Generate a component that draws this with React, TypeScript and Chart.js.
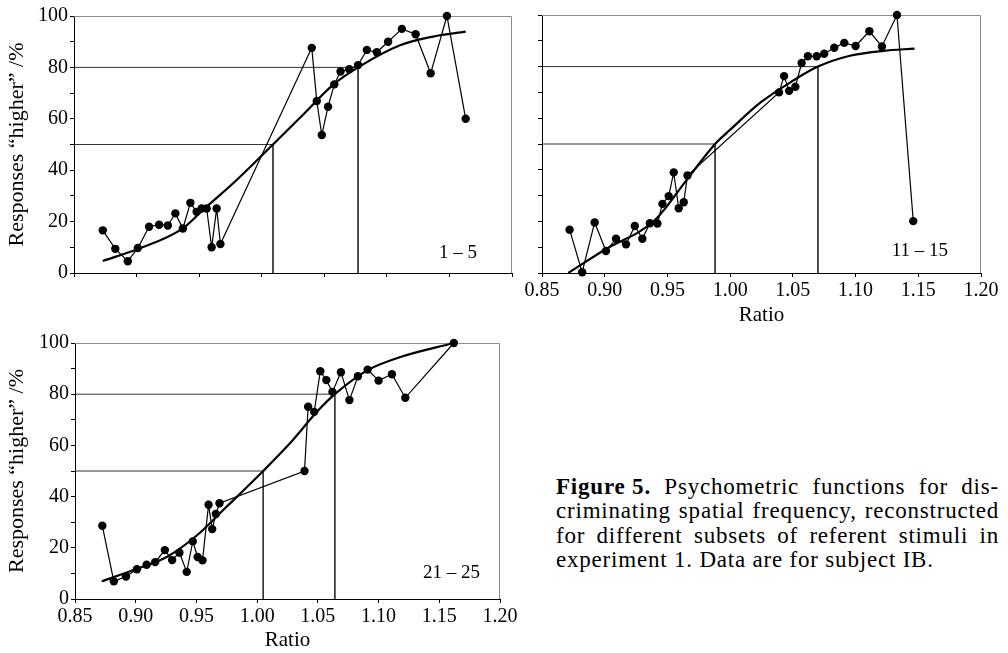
import React, { useEffect, useRef } from "react";
import { Chart, registerables } from "chart.js";

Chart.register(...registerables);

// ---------- shared axis data ----------
const xTicks = [0.85, 0.9, 0.95, 1.0, 1.05, 1.1, 1.15, 1.2];
const yTickMarks = [0, 10, 20, 30, 40, 50, 60, 70, 80, 90, 100];
const yTickLabels = [0, 20, 40, 60, 80, 100];
const thresholdLevels = [50, 80];

// ---------- panel "1 – 5" ----------
const p1X = [0.873, 0.883, 0.893, 0.901, 0.91, 0.918, 0.925, 0.931, 0.937, 0.943, 0.948, 0.952, 0.956, 0.96, 0.964, 0.967, 1.04, 1.044, 1.048, 1.053, 1.058, 1.063, 1.07, 1.077, 1.084, 1.092, 1.101, 1.112, 1.123, 1.135, 1.148, 1.163];
const p1Y = [16.6, 9.4, 4.6, 9.7, 18.0, 18.8, 18.5, 23.2, 17.3, 27.3, 23.8, 25.1, 25.1, 10.0, 25.1, 11.3, 87.6, 66.9, 53.7, 64.7, 73.4, 78.4, 79.3, 80.9, 86.8, 85.9, 90.0, 95.0, 92.9, 77.7, 100, 60.0];
const p1FitX = [0.873, 0.901, 0.937, 0.953, 0.98, 1.009, 1.031, 1.057, 1.077, 1.111, 1.137, 1.163];
const p1FitY = [4.7, 9.3, 17.4, 24.5, 36.2, 50.0, 60.6, 73.2, 80.0, 88.7, 92.0, 93.9];
const p1Thresh = [1.009, 1.077];

// ---------- panel "11 – 15" ----------
const p2X = [0.872, 0.882, 0.892, 0.901, 0.909, 0.917, 0.924, 0.93, 0.936, 0.942, 0.946, 0.951, 0.955, 0.959, 0.963, 0.966, 1.039, 1.043, 1.047, 1.052, 1.057, 1.062, 1.069, 1.075, 1.083, 1.091, 1.1, 1.111, 1.121, 1.133, 1.146];
const p2Y = [16.8, 0.3, 19.6, 8.5, 13.3, 11.1, 18.2, 13.3, 19.3, 19.2, 26.8, 29.8, 39.0, 25.1, 27.4, 37.8, 70.0, 76.3, 70.6, 72.2, 81.4, 84.0, 84.0, 85.0, 87.3, 89.2, 88.0, 93.7, 87.8, 100, 20.1];
const p2FitX = [0.871, 0.9, 0.94, 0.966, 0.988, 1.0, 1.024, 1.05, 1.07, 1.0955, 1.122, 1.147];
const p2FitY = [0, 9.0, 20.5, 36.5, 50.0, 55.5, 66.0, 74.5, 80.0, 84.2, 86.1, 87.0];
const p2Thresh = [0.988, 1.07];

// ---------- panel "21 – 25" ----------
const p3X = [0.8725, 0.882, 0.892, 0.901, 0.909, 0.916, 0.924, 0.93, 0.936, 0.942, 0.947, 0.951, 0.955, 0.96, 0.963, 0.966, 0.969, 1.039, 1.042, 1.047, 1.052, 1.057, 1.062, 1.069, 1.076, 1.083, 1.091, 1.1, 1.111, 1.122, 1.162];
const p3Y = [28.6, 6.9, 8.8, 11.6, 13.4, 14.4, 19.1, 15.2, 18.1, 10.6, 22.5, 16.4, 15.1, 36.8, 27.3, 33.2, 37.4, 50.0, 75.1, 73.1, 89.0, 85.5, 80.9, 88.6, 77.7, 87.0, 89.6, 85.3, 87.8, 78.6, 100];
const p3FitX = [0.872, 0.9, 0.9255, 0.95, 0.975, 1.005, 1.027, 1.05, 1.064, 1.091, 1.118, 1.162];
const p3FitY = [6.9, 11.6, 16.4, 24.7, 36.1, 50.0, 60.8, 73.5, 80.0, 89.4, 94.5, 100];
const p3Thresh = [1.005, 1.064];

const FONT = "'Liberation Serif', 'DejaVu Serif', serif";

const framePlugin = {
  id: "frame",
  beforeDatasetsDraw(chart: any) {
    const { ctx, chartArea } = chart;
    const { left, right, top, bottom } = chartArea;
    ctx.save();
    ctx.strokeStyle = "#8c8c8c";
    ctx.lineWidth = 1;
    ctx.beginPath();
    ctx.moveTo(left, top + 0.5);
    ctx.lineTo(right - 0.5, top + 0.5);
    ctx.lineTo(right - 0.5, bottom);
    ctx.stroke();
    ctx.restore();
  },
};

type PanelProps = {
  xs: number[];
  ys: number[];
  fx: number[];
  fy: number[];
  th: number[];
  left: number;
  top: number;
  width: number;
  height: number;
  pad: { top: number; right: number; left: number; bottom: number };
  yWidth: number;
  xHeight: number;
  titlePadBottom: number;
  showYLabels: boolean;
  showXLabels: boolean;
};

function Panel(p: PanelProps) {
  const ref = useRef<HTMLCanvasElement | null>(null);
  useEffect(() => {
    if (!ref.current) return;
    const data = p.xs.map((x, i) => ({ x, y: p.ys[i] }));
    const fit = p.fx.map((x, i) => ({ x, y: p.fy[i] }));
    const refs = thresholdLevels.map((lv, i) => ({
      data: [
        { x: xTicks[0], y: lv },
        { x: p.th[i], y: lv },
        { x: p.th[i], y: 0 },
      ],
      showLine: true,
      borderColor: "#333",
      borderWidth: 1,
      pointRadius: 0,
      tension: 0,
      clip: false as any,
    }));
    const chart = new Chart(ref.current, {
      type: "scatter",
      data: {
        datasets: [
          {
            data,
            showLine: true,
            borderColor: "#000",
            borderWidth: 1.2,
            pointRadius: 4.2,
            pointBackgroundColor: "#000",
            pointBorderColor: "#000",
            pointBorderWidth: 0,
            tension: 0,
            clip: false as any,
          },
          {
            data: fit,
            showLine: true,
            borderColor: "#000",
            borderWidth: 2.2,
            pointRadius: 0,
            cubicInterpolationMode: "monotone",
            clip: false as any,
          },
          ...refs,
        ] as any,
      },
      options: {
        animation: false,
        responsive: false,
        maintainAspectRatio: false,
        layout: { padding: p.pad },
        plugins: {
          legend: { display: false },
          tooltip: { enabled: false },
        },
        scales: {
          x: {
            type: "linear",
            min: xTicks[0],
            max: xTicks[xTicks.length - 1],
            afterBuildTicks: (s: any) => {
              s.ticks = xTicks.map((v) => ({ value: v }));
            },
            afterFit: (s: any) => {
              s.height = p.xHeight;
            },
            ticks: {
              autoSkip: false,
              maxRotation: 0,
              padding: 2,
              color: "#000",
              font: { family: FONT, size: 20 },
              callback: (v: any) => (p.showXLabels ? Number(v).toFixed(2) : ""),
            },
            grid: {
              drawOnChartArea: false,
              drawTicks: true,
              tickLength: 4,
              color: "#000",
            },
            border: { display: true, color: "#000", width: 1 },
            title: {
              display: p.showXLabels,
              text: "Ratio",
              color: "#000",
              font: { family: FONT, size: 21 },
              padding: { top: 0, bottom: p.titlePadBottom },
            },
          },
          y: {
            type: "linear",
            min: 0,
            max: 100,
            afterBuildTicks: (s: any) => {
              s.ticks = yTickMarks.map((v) => ({ value: v }));
            },
            afterFit: (s: any) => {
              s.width = p.yWidth;
            },
            ticks: {
              autoSkip: false,
              padding: 2,
              color: "#000",
              font: { family: FONT, size: 20 },
              callback: (v: any) =>
                p.showYLabels && yTickLabels.includes(Number(v)) ? String(v) : "",
            },
            grid: {
              drawOnChartArea: false,
              drawTicks: true,
              tickLength: 4,
              color: "#000",
            },
            border: { display: true, color: "#000", width: 1 },
            title: {
              display: p.showYLabels,
              text: "Responses \u201chigher\u201d /%",
              color: "#000",
              font: { family: FONT, size: 22 },
              padding: { top: 4, bottom: 0 },
            },
          },
        },
      },
      plugins: [framePlugin],
    });
    return () => chart.destroy();
  }, []);
  return (
    <canvas
      ref={ref}
      width={p.width}
      height={p.height}
      style={{
        position: "absolute",
        left: p.left,
        top: p.top,
        width: p.width,
        height: p.height,
      }}
    />
  );
}

const labelStyle: React.CSSProperties = {
  position: "absolute",
  fontFamily: FONT,
  fontSize: 19,
  lineHeight: "19px",
  color: "#000",
  textAlign: "right",
  whiteSpace: "nowrap",
  width: 120,
};

const captionLine: React.CSSProperties = {
  textAlign: "justify",
  textAlignLast: "justify" as any,
  whiteSpace: "nowrap",
};

export default function App() {
  return (
    <div
      style={{
        position: "absolute",
        left: 0,
        top: 0,
        width: 1008,
        height: 653,
        background: "#fff",
        overflow: "hidden",
      }}
    >
      <Panel
        xs={p1X}
        ys={p1Y}
        fx={p1FitX}
        fy={p1FitY}
        th={p1Thresh}
        left={0}
        top={0}
        width={520}
        height={300}
        pad={{ top: 16, right: 8, left: 0, bottom: 0 }}
        yWidth={74}
        xHeight={27}
        titlePadBottom={0}
        showYLabels={true}
        showXLabels={false}
      />
      <Panel
        xs={p2X}
        ys={p2Y}
        fx={p2FitX}
        fy={p2FitY}
        th={p2Thresh}
        left={520}
        top={0}
        width={488}
        height={335}
        pad={{ top: 15, right: 27, left: 0, bottom: 0 }}
        yWidth={22}
        xHeight={62}
        titlePadBottom={7}
        showYLabels={false}
        showXLabels={true}
      />
      <Panel
        xs={p3X}
        ys={p3Y}
        fx={p3FitX}
        fy={p3FitY}
        th={p3Thresh}
        left={0}
        top={320}
        width={545}
        height={333}
        pad={{ top: 23, right: 45, left: 0, bottom: 0 }}
        yWidth={75}
        xHeight={54}
        titlePadBottom={0}
        showYLabels={true}
        showXLabels={true}
      />
      <div style={{ ...labelStyle, left: 477 - 120, top: 242 }}>1 – 5</div>
      <div style={{ ...labelStyle, left: 948 - 120, top: 240 }}>11 – 15</div>
      <div style={{ ...labelStyle, left: 480 - 120, top: 562 }}>21 – 25</div>
      <div
        style={{
          position: "absolute",
          left: 556,
          top: 475,
          width: 443,
          fontFamily: FONT,
          fontSize: 23,
          letterSpacing: "0.8px",
          lineHeight: "24.3px",
          color: "#000",
        }}
      >
        <div style={captionLine}>
          <b style={{ display: "inline-block" }}>Figure&nbsp;5.</b> Psychometric functions for dis-
        </div>
        <div style={captionLine}>criminating spatial frequency, reconstructed</div>
        <div style={captionLine}>for different subsets of referent stimuli in</div>
        <div style={{ whiteSpace: "nowrap" }}>experiment 1. Data are for subject IB.</div>
      </div>
    </div>
  );
}
